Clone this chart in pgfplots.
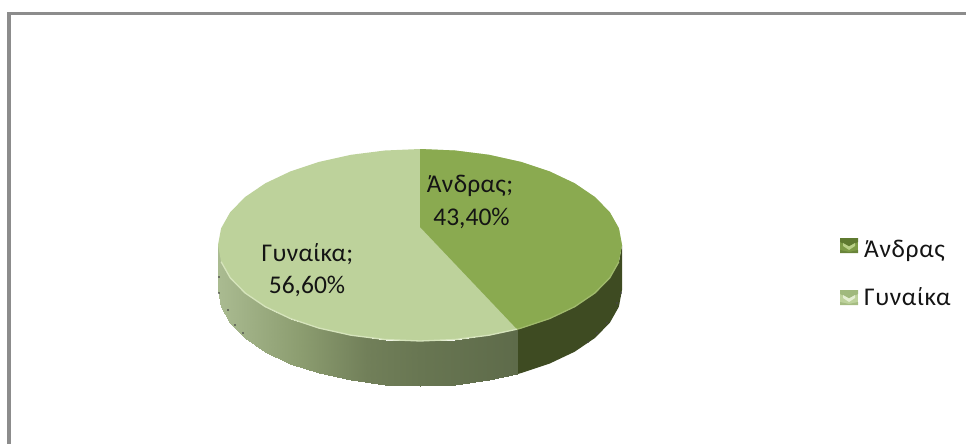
\documentclass[border=0pt]{standalone}
\usepackage{pgfplots}
\pgfplotsset{compat=1.18}
\usepackage{fontspec}
\setmainfont{Carlito}
\definecolor{lightface}{RGB}{189,210,155}
\definecolor{darkface}{RGB}{138,170,80}
\definecolor{darkside}{RGB}{62,75,34}
\definecolor{framegray}{RGB}{140,140,140}
\definecolor{labeltext}{RGB}{20,20,20}
\newcommand\lab{\fontsize{25.5}{25.5}\selectfont\color{labeltext}}
\newcommand\labg{\fontsize{25.5}{25.5}\selectfont\addfontfeature{LetterSpace=1.2}\color{labeltext}}
\newcommand\labl{\fontsize{25.5}{25.5}\selectfont\addfontfeature{LetterSpace=2.5}\color{labeltext}}
\pgfplotsset{colormap={sidegrad}{rgb255(0pt)=(170,187,145); rgb255(82pt)=(140,157,112); rgb255(149pt)=(113,127,89); rgb255(202pt)=(104,118,82); rgb255(299pt)=(94,107,74)}}
\begin{document}
\begin{tikzpicture}
\begin{axis}[
  scale only axis, width=966pt, height=444pt,
  xmin=0, xmax=966, ymin=0, ymax=444, y dir=reverse,
  axis lines=none, clip=true, colormap name=sidegrad,
  point meta min=218, point meta max=517,
]
\path (axis cs:0,0) rectangle (axis cs:966,444);
% frame
\addplot[framegray, line width=3.5pt, line cap=butt] coordinates {(9,444) (9,13.5) (966,13.5)};
% right (dark) side wall
\addplot[fill=darkside, draw=none] coordinates {
 (622,245) (618.9,261.7) (609.8,277.8) (594.9,293) (574.7,306.7) (549.8,318.5) (521,328.1) (517,329.2)
 (517,374.2) (521,373.1) (549.8,363.5) (574.7,351.7) (594.9,338) (609.8,322.8) (618.9,306.7) (622,290)} -- cycle;
% front (light) side wall, shaded from left to right
\addplot[patch, patch type=rectangle, shader=interp, point meta=x] table {
x y
218 245
221.1 261.7
221.1 306.7
218 290
221.1 261.7
230.2 277.8
230.2 322.8
221.1 306.7
230.2 277.8
245.1 293
245.1 338
230.2 322.8
245.1 293
265.3 306.7
265.3 351.7
245.1 338
265.3 306.7
290.2 318.5
290.2 363.5
265.3 351.7
290.2 318.5
319 328.1
319 373.1
290.2 363.5
319 328.1
350.9 335.2
350.9 380.2
319 373.1
350.9 335.2
384.9 339.5
384.9 384.5
350.9 380.2
384.9 339.5
420 341
420 386
384.9 384.5
420 341
455.1 339.5
455.1 384.5
420 386
455.1 339.5
489.1 335.2
489.1 380.2
455.1 384.5
489.1 335.2
517 329.2
517 374.2
489.1 380.2
};
% small dark specks along the wall's outer edge
\addplot[only marks, mark=*, mark size=0.6pt, color={rgb,255:red,70;green,70;blue,70}] coordinates {
 (219,277) (219,293) (228,310) (235,325) (243,333) (621,293) (617,303) (607,323) (597,333) (588,342)};
% top face: Gynaika slice (56.60)
\addplot[fill=lightface, draw=none] coordinates {
 (420,149) (455.1,150.5) (489.1,154.8) (521,161.9) (549.8,171.5) (574.7,183.3) (594.9,197) (609.8,212.2) (618.9,228.3) (622,245)
 (618.9,261.7) (609.8,277.8) (594.9,293) (574.7,306.7) (549.8,318.5) (521,328.1) (489.1,335.2) (455.1,339.5) (420,341)
 (384.9,339.5) (350.9,335.2) (319,328.1) (290.2,318.5) (265.3,306.7) (245.1,293) (230.2,277.8) (221.1,261.7) (218,245)
 (221.1,228.3) (230.2,212.2) (245.1,197) (265.3,183.3) (290.2,171.5) (319,161.9) (350.9,154.8) (384.9,150.5)} -- cycle;
% top face: Andras slice (43.40)
\addplot[fill=darkface, draw=none] coordinates {
 (420,149) (455.1,150.5) (489.1,154.8) (521,161.9) (549.8,171.5) (574.7,183.3) (594.9,197) (609.8,212.2) (618.9,228.3) (622,245)
 (618.9,261.7) (609.8,277.8) (594.9,293) (574.7,306.7) (549.8,318.5) (521,328.1) (517,329.2) (420,227)} -- cycle;
% bevel rims
\addplot[color={rgb,255:red,214;green,228;blue,188}, line width=1.3pt] coordinates {
 (221.1,261.7) (230.2,277.8) (245.1,293) (265.3,306.7) (290.2,318.5) (319,328.1) (350.9,335.2) (384.9,339.5) (420,341) (455.1,339.5) (489.1,335.2) (517,329.2)};
\addplot[color={rgb,255:red,160;green,186;blue,108}, line width=1.3pt] coordinates {
 (517,329.2) (521,328.1) (549.8,318.5) (574.7,306.7) (594.9,293) (609.8,277.8) (618.9,261.7)};
% legend icons
\addplot[fill={rgb,255:red,125;green,155;blue,70}, draw=none] coordinates {(840,238) (858,238) (858,253) (840,253)} -- cycle;
\addplot[fill={rgb,255:red,95;green,122;blue,48}, draw=none] coordinates {(840,238) (858,238) (858,242) (849,246) (840,242)} -- cycle;
\addplot[fill={rgb,255:red,185;green,208;blue,135}, draw=none] coordinates {(843,243) (849,246.5) (855,243) (855,246) (849,250) (843,246)} -- cycle;
\addplot[fill={rgb,255:red,105;green,132;blue,58}, draw=none] coordinates {(840,250) (849,252) (858,250) (858,253) (840,253)} -- cycle;
\addplot[fill=lightface, draw=none] coordinates {(840,290) (858,290) (858,305) (840,305)} -- cycle;
\addplot[fill={rgb,255:red,160;green,185;blue,125}, draw=none] coordinates {(840,290) (858,290) (858,294) (849,298) (840,294)} -- cycle;
\addplot[fill={rgb,255:red,228;green,238;blue,210}, draw=none] coordinates {(843,295) (849,298.5) (855,295) (855,298) (849,302) (843,298)} -- cycle;
\addplot[fill={rgb,255:red,165;green,188;blue,130}, draw=none] coordinates {(840,302) (849,304) (858,302) (858,305) (840,305)} -- cycle;
% texts
\node[anchor=base, inner sep=0pt] at (axis cs:470,192) {\labg Άνδρας;};
\node[anchor=base, inner sep=0pt] at (axis cs:471.5,225) {\lab 43,40\%};
\node[anchor=base, inner sep=0pt] at (axis cs:307.5,261) {\labg Γυναίκα;};
\node[anchor=base, inner sep=0pt] at (axis cs:307,293) {\lab 56,60\%};
\node[anchor=base west, inner sep=0pt] at (axis cs:864,257) {\labl Άνδρας};
\node[anchor=base west, inner sep=0pt] at (axis cs:864,305) {\labl Γυναίκα};
\end{axis}
\end{tikzpicture}
\end{document}
